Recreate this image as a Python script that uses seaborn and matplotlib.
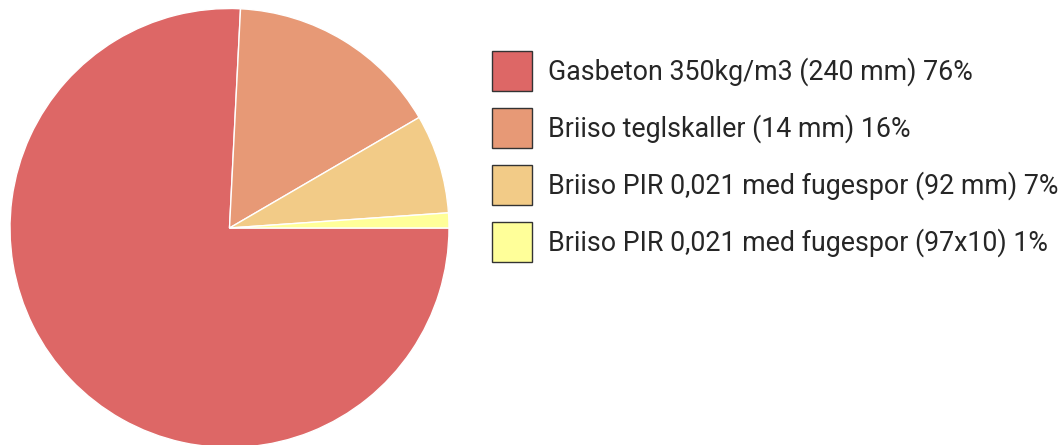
import matplotlib
matplotlib.use("Agg")
import matplotlib.pyplot as plt
from matplotlib.patches import Patch
import seaborn as sns

labels = ["Gasbeton 350kg/m3 (240 mm) 76%",
          "Briiso teglskaller (14 mm) 16%",
          "Briiso PIR 0,021 med fugespor (92 mm) 7%",
          "Briiso PIR 0,021 med fugespor (97x10) 1%"]
shares = [75.8, 15.8, 7.3, 1.1]
colors = ["#dd6766", "#e79976", "#f2cb87", "#ffff99"]

sns.set_theme(style="white")
plt.rcParams['font.family'] = ['Roboto', 'DejaVu Sans']

W, H = 1061, 445
fig = plt.figure(figsize=(W / 100, H / 100), dpi=100)
cx, cy, r = 229.5, 228, 219.5
ax = fig.add_axes([(cx - r) / W, (H - cy - r) / H, 2 * r / W, 2 * r / H])
ax.pie(shares, colors=colors, startangle=0, counterclock=False, radius=1,
       wedgeprops=dict(edgecolor="white", linewidth=1.0))
ax.set_xlim(-1, 1)
ax.set_ylim(-1, 1)
ax.set_aspect("equal")
ax.axis("off")

fs = 19.3
px = fs * 100 / 72
handles = [Patch(facecolor=c, edgecolor="#333333", linewidth=1.0) for c in colors]
fig.legend(handles, labels, loc="upper left",
           bbox_to_anchor=(492 / W, 1 - 51 / H), frameon=False,
           fontsize=fs, handlelength=40 / px, handleheight=(40 / px - 0.245) / 0.65,
           handletextpad=0.6, labelspacing=17 / px, borderpad=0, borderaxespad=0)

fig.savefig("out.png", dpi=100, facecolor="white")
